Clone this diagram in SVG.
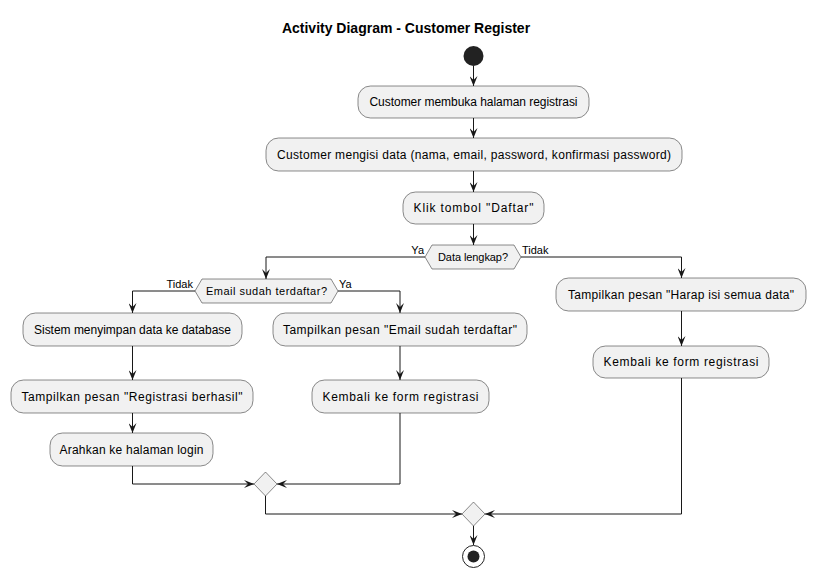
<svg xmlns="http://www.w3.org/2000/svg" width="816" height="579" viewBox="0 0 816 579">
<style>
  .act rect { fill:#F1F1F1; stroke:#181818; stroke-width:0.5; }
  .act text, .dec text { font-family:"Liberation Sans", Arial, sans-serif; font-size:12px; fill:#000; text-anchor:middle; }
  .dec polygon { fill:#F1F1F1; stroke:#181818; stroke-width:0.5; }
  .dec text { font-size:11px; }
  .lbl { font-family:"Liberation Sans", Arial, sans-serif; font-size:11px; fill:#000; }
  .conn path { fill:none; stroke:#181818; stroke-width:1; marker-end:url(#arr); }
  .title { font-family:"Liberation Sans", Arial, sans-serif; font-size:14px; font-weight:bold; text-anchor:middle; fill:#000; }
</style>
<defs>
  <marker id="arr" markerUnits="userSpaceOnUse" markerWidth="10" markerHeight="8" refX="10" refY="4" orient="auto">
    <path d="M0,0 L10,4 L0,8 L4,4 Z" fill="#181818"/>
  </marker>
</defs>
<rect width="816" height="579" fill="#FFFFFF"/>
<text class="title" x="406" y="33">Activity Diagram - Customer Register</text>

<g id="connectors" class="conn">
  <path d="M473.5,66 V86"/>
  <path d="M473.5,118 V138"/>
  <path d="M473.5,171 V192"/>
  <path d="M473.5,224 V245"/>
  <path d="M425,257 H266 V279"/>
  <path d="M521,257 H681.5 V278"/>
  <path d="M195,291 H132.5 V313"/>
  <path d="M338,291 H400 V313"/>
  <path d="M132.5,346 V380"/>
  <path d="M132.5,413 V433"/>
  <path d="M132.5,466 V484 H254"/>
  <path d="M400,346 V380"/>
  <path d="M400,413 V484 H277"/>
  <path d="M265.5,496 V514 H462"/>
  <path d="M681.5,311 V346"/>
  <path d="M681.5,378 V514 H485"/>
  <path d="M473.5,526 V545"/>
</g>
<g id="labels">
  <text class="lbl" x="424" y="254" text-anchor="end">Ya</text>
  <text class="lbl" x="522" y="254">Tidak</text>
  <text class="lbl" x="193" y="288" text-anchor="end">Tidak</text>
  <text class="lbl" x="339" y="288">Ya</text>
</g>

<g id="start"><circle cx="473.5" cy="56" r="10" fill="#222222"/></g>

<g id="a1" class="act"><rect x="358" y="86" width="231" height="32" rx="12.5"/><text x="473.5" y="106" textLength="208">Customer membuka halaman registrasi</text></g>
<g id="a2" class="act"><rect x="266" y="138" width="416" height="33" rx="12.5"/><text x="474" y="159" textLength="394">Customer mengisi data (nama, email, password, konfirmasi password)</text></g>
<g id="a3" class="act"><rect x="403" y="192" width="141" height="32" rx="12.5"/><text x="473.5" y="212" textLength="120">Klik tombol "Daftar"</text></g>

<g id="d1" class="dec"><polygon points="425,257 432,245 514,245 521,257 514,269 432,269"/><text x="473" y="261" textLength="70">Data lengkap?</text></g>
<g id="d2" class="dec"><polygon points="195,291 202,279 331,279 338,291 331,303 202,303"/><text x="266.5" y="295" textLength="121">Email sudah terdaftar?</text></g>

<g id="a4" class="act"><rect x="23" y="313" width="219" height="33" rx="12.5"/><text x="132.5" y="334" textLength="197">Sistem menyimpan data ke database</text></g>
<g id="a5" class="act"><rect x="11" y="380" width="242" height="33" rx="12.5"/><text x="132" y="401" textLength="221">Tampilkan pesan "Registrasi berhasil"</text></g>
<g id="a6" class="act"><rect x="50" y="433" width="163" height="33" rx="12.5"/><text x="131.5" y="454" textLength="144">Arahkan ke halaman login</text></g>
<g id="a7" class="act"><rect x="273" y="313" width="254" height="33" rx="12.5"/><text x="400" y="334" textLength="234">Tampilkan pesan "Email sudah terdaftar"</text></g>
<g id="a8" class="act"><rect x="312" y="380" width="177" height="33" rx="12.5"/><text x="400.5" y="401" textLength="156">Kembali ke form registrasi</text></g>
<g id="a9" class="act"><rect x="556" y="278" width="250" height="33" rx="12.5"/><text x="681" y="299" textLength="226">Tampilkan pesan "Harap isi semua data"</text></g>
<g id="a10" class="act"><rect x="593" y="346" width="176" height="32" rx="12.5"/><text x="681" y="366" textLength="155">Kembali ke form registrasi</text></g>

<g id="m1" class="dec"><polygon points="265.5,472 277,484 265.5,496 254,484"/></g>
<g id="m2" class="dec"><polygon points="473.5,502 485,514 473.5,526 462,514"/></g>

<g id="end"><circle cx="473.5" cy="556.5" r="11" fill="#FFFFFF" stroke="#222222" stroke-width="1"/><circle cx="473.5" cy="556.5" r="6" fill="#222222"/></g>
</svg>
